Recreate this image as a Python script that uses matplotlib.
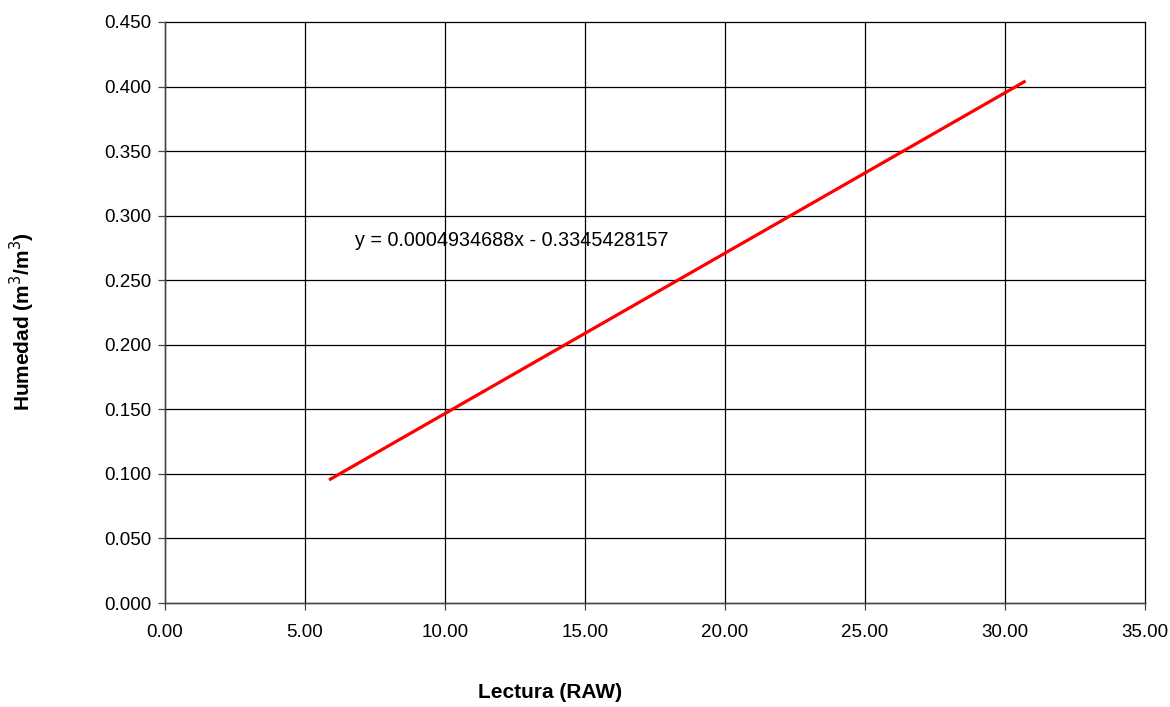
import matplotlib
matplotlib.use("Agg")
import matplotlib.pyplot as plt
import numpy as np

plt.rcParams['font.family'] = ['Liberation Sans', 'DejaVu Sans']

x_vals = [5.86, 30.75]
y_vals = [0.0953, 0.4043]
equation = "y = 0.0004934688x - 0.3345428157"
xticks = [0, 5, 10, 15, 20, 25, 30, 35]
yticks = [0.0, 0.05, 0.10, 0.15, 0.20, 0.25, 0.30, 0.35, 0.40, 0.45]

fig = plt.figure(figsize=(11.7, 7.07), dpi=100)
ax = fig.add_axes([165/1170, 1-603/707, (1144.5-165)/1170, (603-22)/707])
ax.plot(x_vals, y_vals, color='#ff0000', lw=2.3, solid_capstyle='butt', zorder=3)
ax.set_xlim(0, 35)
ax.set_ylim(0, 0.45)
ax.set_xticks(xticks)
ax.set_yticks(yticks)
ax.set_xticklabels([f"{v:.2f}" for v in xticks], fontsize=13.5)
ax.set_yticklabels([f"{v:.3f}" for v in yticks], fontsize=13.5)
ax.grid(True, color='black', lw=0.9)
for gl in ax.get_xgridlines() + ax.get_ygridlines():
    gl.set_clip_on(False)
for s in ['top', 'right']:
    ax.spines[s].set_visible(False)
for s in ['left', 'bottom']:
    ax.spines[s].set_color('#444444')
    ax.spines[s].set_linewidth(1.0)
ax.tick_params(direction='out', length=5, width=0.9, color='#444444')
ax.tick_params(axis='y', pad=5)
ax.tick_params(axis='x', pad=10)
ax.text(6.79, 0.2804, equation, fontsize=14.2, va='center', ha='left')
fig.text(550/1170, 1-692/707, "Lectura (RAW)", fontsize=15, fontweight='bold', ha='center', va='center')
fig.text(22/1170, 1-322/707, "Humedad (m$^3$/m$^3$)", fontsize=15, fontweight='bold', ha='center', va='center', rotation=90)
fig.savefig("out.png", dpi=100)
